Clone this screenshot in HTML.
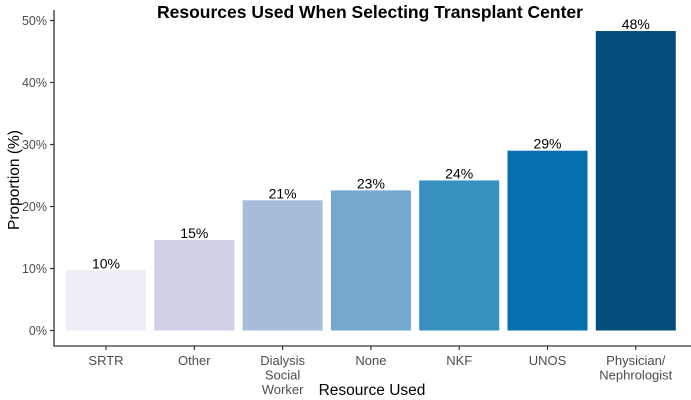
<!DOCTYPE html>
<html><head><meta charset="utf-8"><style>
body{margin:0;background:#fff;font-family:"Liberation Sans",Arial,sans-serif}
svg{display:block}
</style></head><body>
<svg id="chart" width="691" height="400" xmlns="http://www.w3.org/2000/svg">
<text x="370" y="18" text-anchor="middle" font-size="17.5" font-weight="bold" fill="#000">Resources Used When Selecting Transplant Center</text>
<line x1="54" y1="10" x2="54" y2="346.5" stroke="#333" stroke-width="1.3"/>
<line x1="53.5" y1="346" x2="691" y2="346" stroke="#333" stroke-width="1.3"/>
<text transform="translate(19,180) rotate(-90)" text-anchor="middle" font-size="15.5" fill="#000">Proportion (%)</text>
<text x="372" y="395" text-anchor="middle" font-size="15.5" fill="#000">Resource Used</text>
<g id="bars"></g><g id="ticks"></g>
</svg>
<script>
const categories=[["SRTR"],["Other"],["Dialysis","Social","Worker"],["None"],["NKF"],["UNOS"],["Physician/","Nephrologist"]];
const values=[9.7,14.6,21.0,22.6,24.2,29.0,48.3];
const labels=["10%","15%","21%","23%","24%","29%","48%"];
const colors=["#efedf5","#d0d1e6","#a6bddb","#74a9cf","#3690c0","#0570b0","#034e7b"];
const yTicks=[0,10,20,30,40,50];
const NS="http://www.w3.org/2000/svg";
const y=v=>330.5-v*6.2;
const x=i=>66+i*88.3;
const bw=80;
function mk(t,a,p){const e=document.createElementNS(NS,t);for(const k in a)e.setAttribute(k,a[k]);p.appendChild(e);return e;}
const bars=document.getElementById('bars'),ticks=document.getElementById('ticks');
yTicks.forEach(v=>{
 const l=mk('line',{x1:50,x2:54,y1:y(v),y2:y(v),stroke:'#333','stroke-width':1.2},ticks);
 
 
 const t=mk('text',{x:47,y:y(v)+4.5,'text-anchor':'end','font-size':12.5,fill:'#4d4d4d'},ticks);
 t.textContent=v+'%';
 
 
});
values.forEach((v,i)=>{
 const r=mk('rect',{x:x(i),y:y(v),width:bw,height:y(0)-y(v),fill:colors[i]},bars);
 
 
 const t=mk('text',{x:x(i)+bw/2,y:y(v)-2,'text-anchor':'middle','font-size':14,fill:'#000'},bars);
 t.textContent=labels[i];
 
 
 const cx=x(i)+bw/2;
 const tk=mk('line',{x1:cx,x2:cx,y1:346,y2:350,stroke:'#333','stroke-width':1.2},ticks);
 
 
 categories[i].forEach((s,j)=>{
  const c=mk('text',{x:cx,y:365+j*14.5,'text-anchor':'middle','font-size':13,fill:'#4d4d4d'},ticks);
  c.textContent=s;
  
  
 });
});
</script>
</body></html>
